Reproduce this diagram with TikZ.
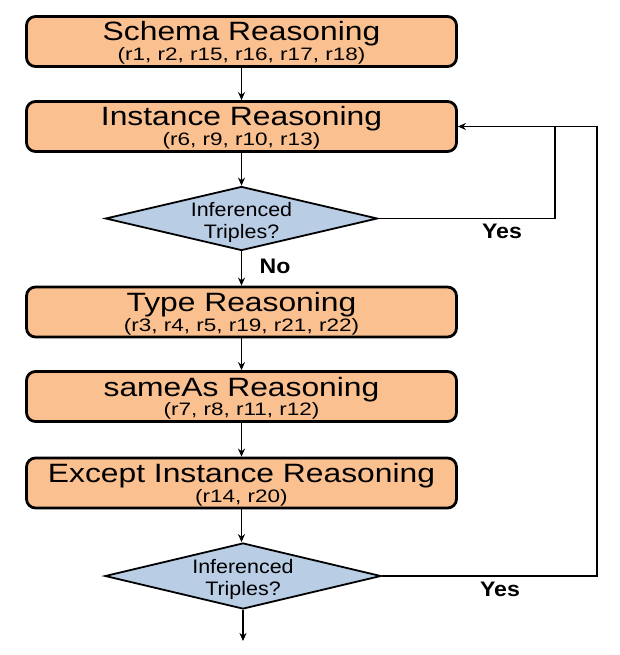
\documentclass[tikz,border=0pt]{standalone}
\usepackage{fontspec}
\setmainfont{Liberation Sans}
\newfontfamily\ttlfont[FakeStretch=1.2]{Liberation Sans}
\newfontfamily\subfont[FakeStretch=1.25]{Liberation Sans}
\newfontfamily\dfont[FakeStretch=1.1]{Liberation Sans}
\usetikzlibrary{shapes.geometric,arrows.meta}
\definecolor{boxfill}{HTML}{FAC090}
\definecolor{dfill}{HTML}{B9CDE5}
\begin{document}
\begin{tikzpicture}[x=1pt,y=-1pt,
 procbox/.style={draw=black,line width=2.8pt,fill=boxfill,rounded corners=9pt,minimum width=430pt,minimum height=50pt,inner sep=0pt},
 decision/.style={draw=black,line width=1.8pt,fill=dfill,diamond,aspect=4.25,inner sep=0pt},
 ttl/.style={anchor=base,inner sep=0pt,font=\ttlfont\fontsize{26.5}{28}\selectfont},
 sub/.style={anchor=base,inner sep=0pt,font=\subfont\fontsize{18}{20}\selectfont},
 dtxt/.style={anchor=base,inner sep=0pt,font=\dfont\fontsize{19.5}{21}\selectfont},
 yn/.style={inner sep=0pt,font=\dfont\bfseries\fontsize{21}{23}\selectfont},
 arr/.style={line width=1.2pt,-{Stealth[length=8pt,width=7pt]}},
 ln/.style={line width=1.1pt}]
\useasboundingbox (0,0) rectangle (619,655);
% boxes
\node[procbox] (b1) at (241.5,41.5) {};
\node[ttl] (t1) at (241.5,41) {Schema Reasoning};
\node[sub] (s1) at (241.5,60.7) {(r1, r2, r15, r16, r17, r18)};
\node[procbox] (b2) at (241.5,126.5) {};
\node[ttl] (t2) at (241.5,126) {Instance Reasoning};
\node[sub] (s2) at (241.5,145.7) {(r6, r9, r10, r13)};
\node[procbox] (b3) at (241.5,312) {};
\node[ttl] (t3) at (241.5,311.5) {Type Reasoning};
\node[sub] (s3) at (241.5,331.2) {(r3, r4, r5, r19, r21, r22)};
\node[procbox] (b4) at (241.5,396.5) {};
\node[ttl] (t4) at (241.5,396) {sameAs Reasoning};
\node[sub] (s4) at (241.5,415.7) {(r7, r8, r11, r12)};
\node[procbox] (b5) at (241.5,483) {};
\node[ttl] (t5) at (241.5,482.5) {Except Instance Reasoning};
\node[sub] (s5) at (241.5,502.2) {(r14, r20)};
% decisions
\node[decision,minimum width=272pt,minimum height=64pt] (d1) at (241.5,218.5) {};
\node[dtxt] (d1a) at (241.5,216) {Inferenced};
\node[dtxt] (d1b) at (241.5,238.5) {Triples?};
\node[decision,minimum width=276pt,minimum height=66pt] (d2) at (243,576) {};
\node[dtxt] (d2a) at (243,573) {Inferenced};
\node[dtxt] (d2b) at (243,595) {Triples?};
% coordinates
\coordinate (c1) at (555,126.5);
\coordinate (c2) at (597,126.5);
\coordinate (e) at (243,641);
% connectors
\draw[arr] (b1.south) -- (b2.north);
\draw[arr] (b2.south) -- (d1.north);
\draw[arr] (d1.south) -- (b3.north);
\draw[arr] (b3.south) -- (b4.north);
\draw[arr] (b4.south) -- (b5.north);
\draw[arr] (b5.south) -- (b5.south |- d2.north);
\draw[arr] (d2.south) -- (e);
\draw[arr] (d1.east) -| (c1) -- (b2.east);
\draw[ln] (d2.east) -| (c2) -- (c1);
% labels
\node[yn] (no) at (275,266.5) {No};
\node[yn] (y1) at (502,231) {Yes};
\node[yn] (y2) at (500,589) {Yes};
\end{tikzpicture}
\end{document}
